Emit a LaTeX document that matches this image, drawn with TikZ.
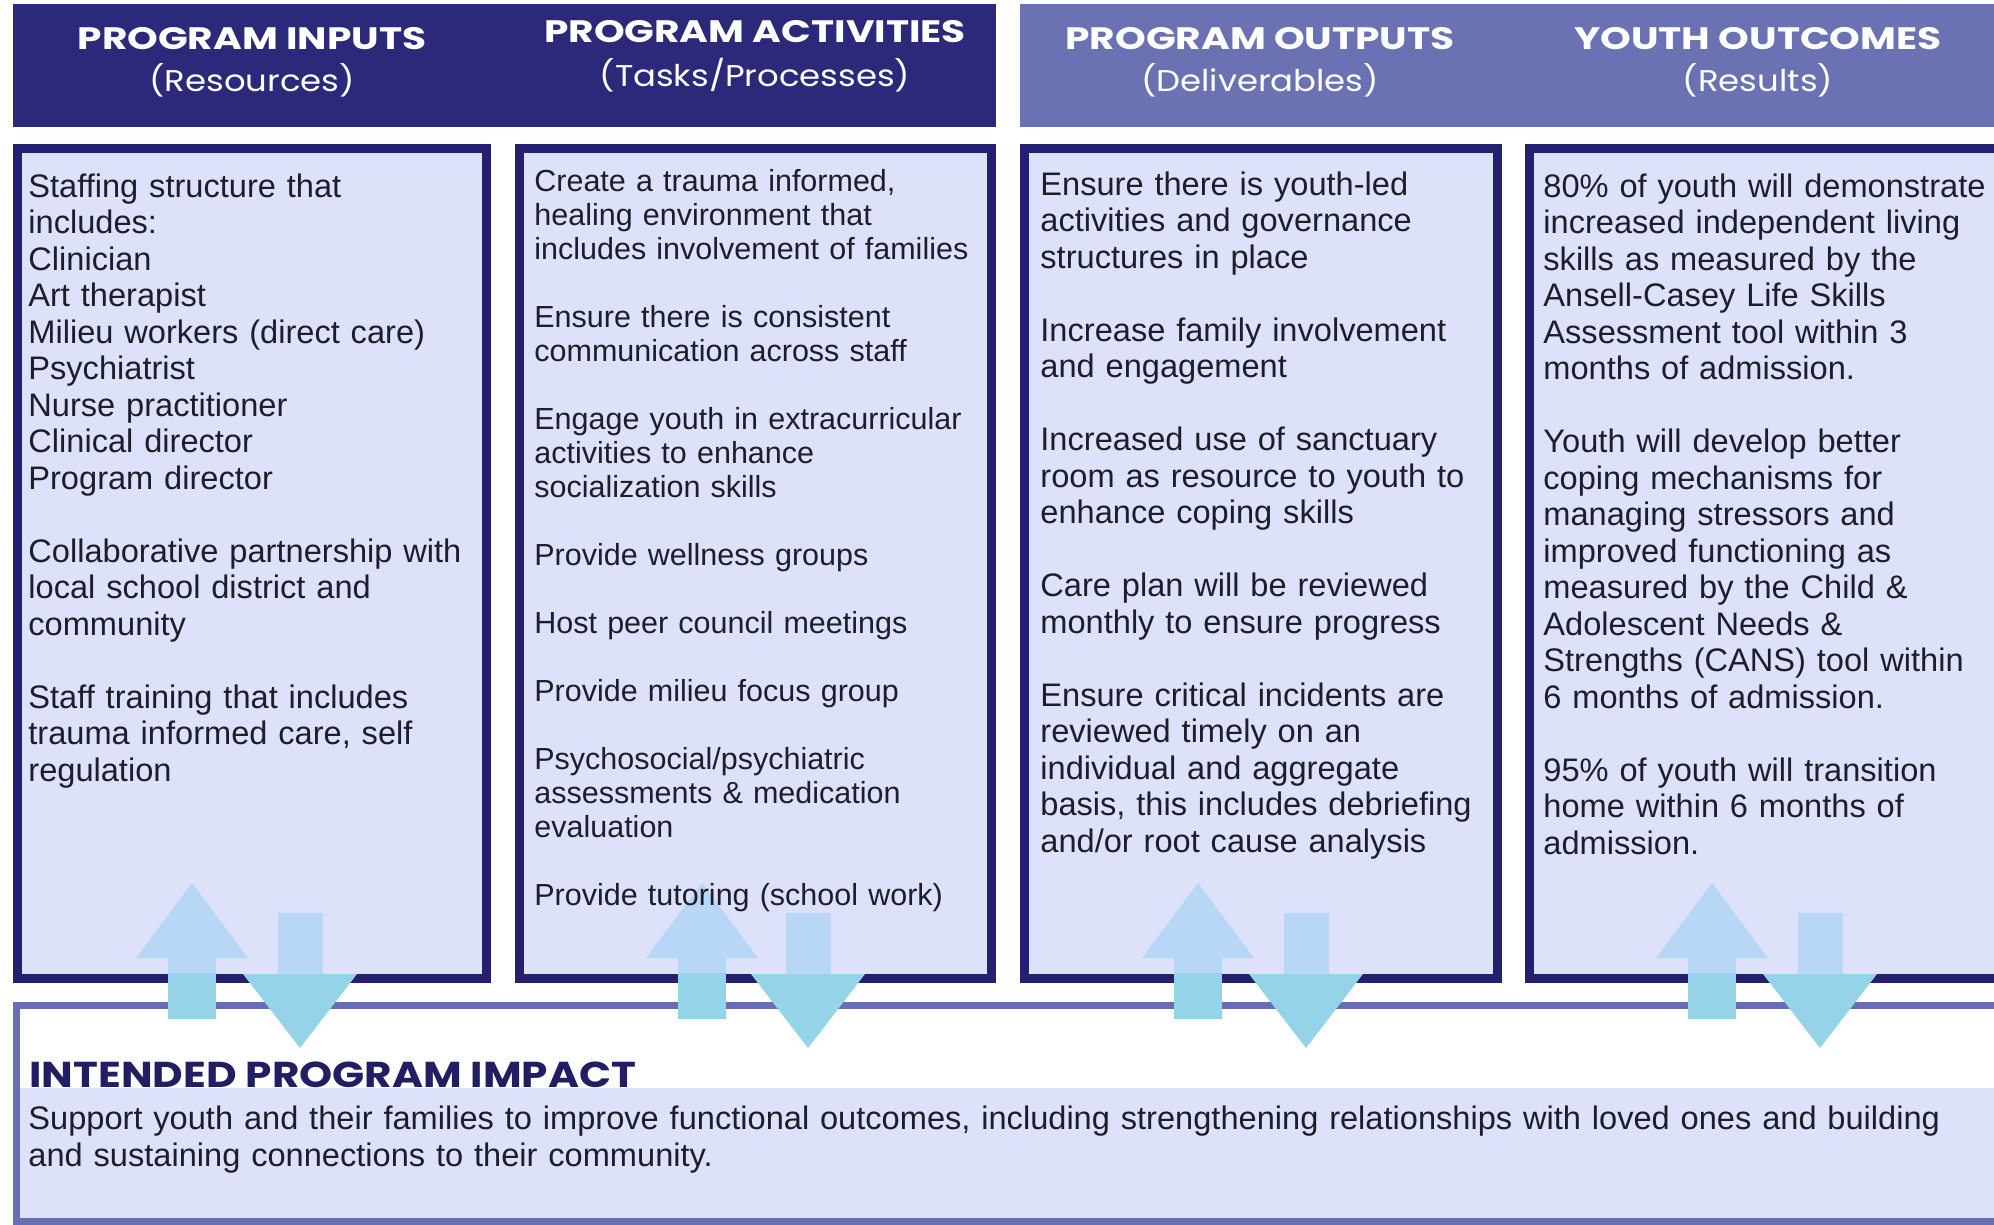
\documentclass[tikz,border=0pt]{standalone}
\usepackage{fontspec}
\setmainfont{Liberation Sans}
\newfontfamily\hfont[FakeStretch=1.13]{Poppins}
\newfontfamily\hbfont[FakeStretch=1.26]{Poppins}
\newfontfamily\tfont[FakeStretch=1.17]{Poppins}
\definecolor{navy}{RGB}{44,40,122}
\definecolor{peri}{RGB}{106,114,180}
\definecolor{boxfill}{RGB}{221,225,250}
\definecolor{boxline}{RGB}{36,31,110}
\definecolor{botline}{RGB}{104,110,180}
\definecolor{arrlight}{RGB}{184,214,245}
\definecolor{arrcyan}{RGB}{149,211,232}
\definecolor{txt}{RGB}{30,30,42}
\definecolor{ttl}{RGB}{34,30,100}
\begin{document}
\begin{tikzpicture}[x=0.5pt,y=-0.5pt,
  body/.style={anchor=north west, inner sep=0pt, align=left, text=txt, text width=232pt,
    font=\fontsize{16.3pt}{18.25pt}\selectfont},
  bodysmall/.style={body, font=\fontsize{15.25pt}{17pt}\selectfont},
  headtxt/.style={anchor=base, inner sep=0pt, text=white, font=\hbfont\bfseries\fontsize{15.5pt}{18pt}\selectfont},
  subtxt/.style={anchor=base, inner sep=0pt, text=white, font=\hfont\fontsize{15pt}{18pt}\selectfont},
  colbox/.style={fill=boxfill, draw=boxline, line width=4.5pt},
]
\useasboundingbox (0,0) rectangle (1994,1225);
\fill[white] (0,0) rectangle (1994,1225);
\clip (0,0) rectangle (1994,1225);
% headers
\fill[navy] (13,4) rectangle (996,127);
\fill[peri] (1020,4) rectangle (2010,127);
% column boxes
\draw[colbox] (17.5,148.5) rectangle (486.5,978.5);
\draw[colbox] (519.5,148.5) rectangle (991.5,978.5);
\draw[colbox] (1024.5,148.5) rectangle (1497.5,978.5);
\draw[colbox] (1529.5,148.5) rectangle (2020,978.5);
% bottom box
\fill[white] (16.5,1005.5) rectangle (2020,1221);
\fill[boxfill] (16.5,1088) rectangle (2020,1221);
\draw[draw=botline, line width=3.5pt] (16.5,1005.5) rectangle (2020,1221);
% arrows
\foreach \u/\d in {192/300, 702/808, 1198/1306, 1712/1820}{
  \fill[arrlight] (\u,883) -- (\u+56,958) -- (\u+24,958) -- (\u+24,973) -- (\u-24,973) -- (\u-24,958) -- (\u-56,958) -- cycle;
  \fill[arrcyan] (\u-24,973) rectangle (\u+24,1019);
  \fill[arrlight] (\d-22.5,913) rectangle (\d+22.5,974);
  \fill[arrcyan] (\d-57,974) -- (\d+57,974) -- (\d,1048) -- cycle;
}
% header texts
\node[headtxt] (h1) at (252,50) {PROGRAM INPUTS};
\node[subtxt] (s1) at (252,92) {(Resources)};
\node[headtxt] (h2) at (755,43) {PROGRAM ACTIVITIES};
\node[subtxt] (s2) at (755,87) {(Tasks/Processes)};
\node[headtxt] (h3) at (1260,50) {PROGRAM OUTPUTS};
\node[subtxt] (s3) at (1260,92) {(Deliverables)};
\node[headtxt] (h4) at (1758,50) {YOUTH OUTCOMES};
\node[subtxt] (s4) at (1758,92) {(Results)};
% column texts
\node[body] (c1) at (28,171.5) {\strut Staffing structure that\\ includes:\\ Clinician\\ Art therapist\\ Milieu workers (direct care)\\ Psychiatrist\\ Nurse practitioner\\ Clinical director\\ Program director\\[18.25pt] Collaborative partnership with\\ local school district and\\ community\\[18.25pt] Staff training that includes\\ trauma informed care, self\\ regulation};
\node[bodysmall] (c2) at (534,167) {\strut Create a trauma informed,\\ healing environment that\\ includes involvement of families\\[17pt] Ensure there is consistent\\ communication across staff\\[17pt] Engage youth in extracurricular\\ activities to enhance\\ socialization skills\\[17pt] Provide wellness groups\\[17pt] Host peer council meetings\\[17pt] Provide milieu focus group\\[17pt] Psychosocial/psychiatric\\ assessments \& medication\\ evaluation\\[17pt] Provide tutoring (school work)};
\node[body] (c3) at (1040,169.5) {\strut Ensure there is youth-led\\ activities and governance\\ structures in place\\[18.25pt] Increase family involvement\\ and engagement\\[18.25pt] Increased use of sanctuary\\ room as resource to youth to\\ enhance coping skills\\[18.25pt] Care plan will be reviewed\\ monthly to ensure progress\\[18.25pt] Ensure critical incidents are\\ reviewed timely on an\\ individual and aggregate\\ basis, this includes debriefing\\ and/or root cause analysis};
\node[body] (c4) at (1543,171.5) {\strut 80\% of youth will demonstrate\\ increased independent living\\ skills as measured by the\\ Ansell-Casey Life Skills\\ Assessment tool within 3\\ months of admission.\\[18.25pt] Youth will develop better\\ coping mechanisms for\\ managing stressors and\\ improved functioning as\\ measured by the Child \&\\ Adolescent Needs \&\\ Strengths (CANS) tool within\\ 6 months of admission.\\[18.25pt] 95\% of youth will transition\\ home within 6 months of\\ admission.};
% impact
\node[anchor=base west, inner sep=0pt, text=ttl, font=\tfont\bfseries\fontsize{18pt}{20pt}\selectfont] (title) at (29,1087) {INTENDED PROGRAM IMPACT};
\node[body, text width=980pt] (impact) at (28,1104) {\strut Support youth and their families to improve functional outcomes, including strengthening relationships with loved ones and building\\ and sustaining connections to their community.};
\end{tikzpicture}
\end{document}
